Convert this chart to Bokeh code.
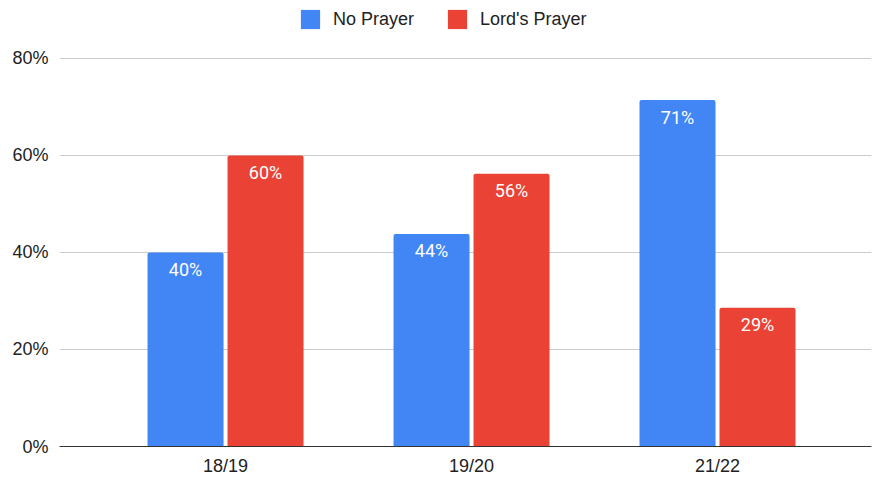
from bokeh.plotting import figure
from bokeh.models import (Range1d, FixedTicker, PrintfTickFormatter, Legend, LegendItem,
                          ColumnDataSource)
from bokeh.core.properties import value
from bokeh.embed import file_html
from bokeh.resources import INLINE

categories = ["18/19", "19/20", "21/22"]
no_prayer = [40.0, 43.8, 71.4]
lords_prayer = [60.0, 56.2, 28.6]
series_names = ["No Prayer", "Lord's Prayer"]
y_ticks = [0, 20, 40, 60, 80]

BLUE = "#4285F4"
RED = "#EA4335"
AXFONT = "Liberation Sans"
LBLFONT = "Roboto"

idx = list(range(len(categories)))
bar_w = 0.309
off = 0.1626

src_blue = ColumnDataSource(dict(
    x=[i - off for i in idx], top=no_prayer,
    label=[f"{round(v)}%" for v in no_prayer]))
src_red = ColumnDataSource(dict(
    x=[i + off for i in idx], top=lords_prayer,
    label=[f"{round(v)}%" for v in lords_prayer]))

# frame spans the full height above the axis; 80% sits 58px below the top
y_top = 80 * 447 / 389

p = figure(width=873, height=478, output_backend="svg", toolbar_location=None,
           x_range=Range1d(-0.675, 2.626), y_range=Range1d(0, y_top),
           min_border_left=59, min_border_right=2, min_border_top=0, min_border_bottom=31)
p.outline_line_color = None
p.background_fill_color = "white"
p.border_fill_color = "white"

r_blue = p.vbar(x="x", top="top", width=bar_w, source=src_blue, fill_color=BLUE,
                line_color=None, border_radius=(2, 2, 0, 0))
r_red = p.vbar(x="x", top="top", width=bar_w, source=src_red, fill_color=RED,
               line_color=None, border_radius=(2, 2, 0, 0))

for s in (src_blue, src_red):
    p.text(x="x", y="top", text="label", source=s, y_offset=17,
           text_align="center", text_baseline="middle", text_color="white",
           text_font=value(LBLFONT), text_font_size="18px")

# axes
p.xaxis.ticker = FixedTicker(ticks=idx)
p.xaxis.major_label_overrides = {i: c for i, c in zip(idx, categories)}
p.xaxis.axis_line_color = "#333333"
p.xaxis.axis_line_width = 1
p.xaxis.major_tick_line_color = None
p.xaxis.major_tick_out = 0
p.xaxis.major_tick_in = 0
p.xaxis.minor_tick_line_color = None
p.xaxis.major_label_standoff = 9
p.xaxis.major_label_text_font = AXFONT
p.xaxis.major_label_text_font_size = "18px"
p.xaxis.major_label_text_color = "#222222"

p.yaxis.ticker = FixedTicker(ticks=y_ticks)
p.yaxis.formatter = PrintfTickFormatter(format="%d%%")
p.yaxis.axis_line_color = None
p.yaxis.major_tick_line_color = None
p.yaxis.major_tick_out = 0
p.yaxis.major_tick_in = 0
p.yaxis.minor_tick_line_color = None
p.yaxis.major_label_standoff = 11
p.yaxis.major_label_text_font = AXFONT
p.yaxis.major_label_text_font_size = "18px"
p.yaxis.major_label_text_color = "#222222"

p.xgrid.grid_line_color = None
p.ygrid.grid_line_color = "#cccccc"
p.ygrid.grid_line_width = 1

legend = Legend(items=[LegendItem(label=series_names[0], renderers=[r_blue]),
                       LegendItem(label=series_names[1], renderers=[r_red])],
                orientation="horizontal", location=(239, 415),
                glyph_width=24, glyph_height=24, label_standoff=11, spacing=31,
                padding=0, margin=0, border_line_color=None, background_fill_alpha=0,
                label_text_font=AXFONT, label_text_font_size="18px",
                label_text_color="#222222", label_height=24)
p.add_layout(legend, "center")

open("out.html", "w").write(file_html(p, INLINE))
